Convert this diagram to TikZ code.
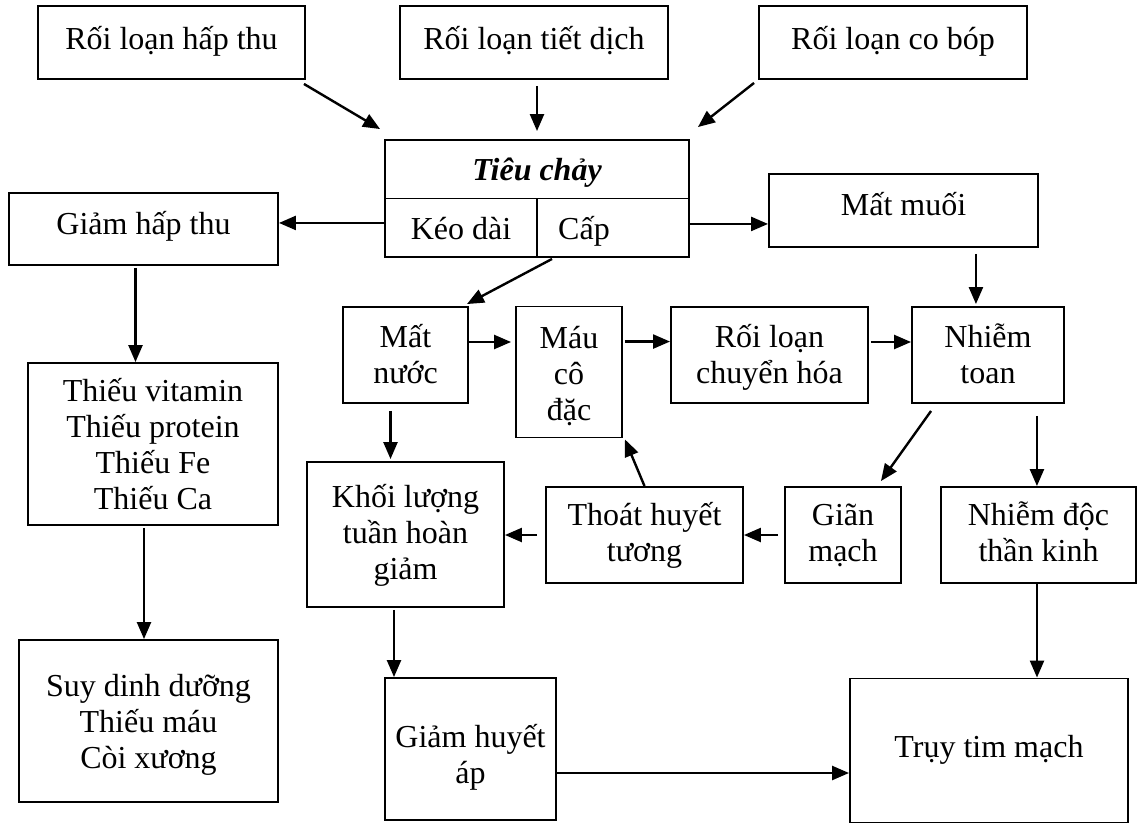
\documentclass[tikz,border=0pt]{standalone}
\usepackage{fontspec}
\setmainfont{Liberation Serif}
\usetikzlibrary{arrows.meta,calc}
\newcommand\rz[2]{\raisebox{#1}[\height][\depth]{\begin{tabular}{@{}c@{}}#2\end{tabular}}}
\begin{document}
\begin{tikzpicture}[x=1pt,y=-1pt,
  box/.style={draw, line width=1.9pt, inner sep=0pt, font=\fontsize{32}{36}\selectfont},
  txt/.style={inner sep=0pt, font=\fontsize{32}{36}\selectfont},
  arr/.style={line width=2.4pt, -{Triangle[length=17pt,width=14pt]}},
]
\useasboundingbox (0,0) rectangle (1138,824);
% top row
\node[box, minimum width=267pt, minimum height=73pt] (rlht) at (171.5,42.5) {\rz{0.5pt}{Rối loạn hấp thu}};
\node[box, minimum width=268pt, minimum height=73pt] (rltd) at (534,42.5) {\rz{0.5pt}{Rối loạn tiết dịch}};
\node[box, minimum width=268pt, minimum height=73pt] (rlcb) at (893,42.5) {\rz{0.5pt}{Rối loạn co bóp}};
% Tieu chay
\node[box, minimum width=304pt, minimum height=117pt] (tc) at (537,198.5) {};
\draw[line width=1.9pt] (tc.west) -- (tc.east);
\draw[line width=1.9pt] (tc.center) -- (tc.south);
\node[txt, font=\fontsize{32}{36}\selectfont\bfseries\itshape, anchor=base] (tct) at (537,180) {Tiêu chảy};
\node[txt, anchor=base] (tck) at (461,239) {Kéo dài};
\node[txt, anchor=base west] (tcc) at (558,239) {Cấp};
% side boxes
\node[box, minimum width=269pt, minimum height=72pt] (ght) at (143.5,229) {\rz{2pt}{Giảm hấp thu}};
\node[box, minimum width=269pt, minimum height=73pt] (mm) at (903.5,210.5) {\rz{2pt}{Mất muối}};
% middle row
\node[box, minimum width=125pt, minimum height=96pt] (mn) at (405.5,355) {\rz{-3pt}{Mất\\nước}};
\node[box, minimum width=106pt, minimum height=131pt] (mcd) at (569,372) {\rz{-5pt}{Máu\\cô\\đặc}};
\node[box, minimum width=197pt, minimum height=96pt] (rlch) at (769.5,355) {\rz{-3pt}{Rối loạn\\chuyển hóa}};
\node[box, minimum width=152pt, minimum height=96pt] (nt) at (988,355) {\rz{-3pt}{Nhiễm\\toan}};
% left column
\node[box, minimum width=250pt, minimum height=162pt] (tv) at (153,444) {\rz{-4pt}{Thiếu vitamin\\Thiếu protein\\Thiếu Fe\\Thiếu Ca}};
\node[box, minimum width=259pt, minimum height=162pt] (sdd) at (148.5,721) {\rz{-4pt}{Suy dinh dưỡng\\Thiếu máu\\Còi xương}};
% lower middle row
\node[box, minimum width=197pt, minimum height=145pt] (kl) at (405.5,534.5) {\rz{-2pt}{Khối lượng\\tuần hoàn\\giảm}};
\node[box, minimum width=197pt, minimum height=96pt] (tht) at (644.5,535) {\rz{-1pt}{Thoát huyết\\tương}};
\node[box, minimum width=116pt, minimum height=96pt] (gm) at (843,535) {\rz{-1pt}{Giãn\\mạch}};
\node[box, minimum width=195pt, minimum height=96pt] (ndtk) at (1038.5,535) {\rz{-1pt}{Nhiễm độc\\thần kinh}};
% bottom
\node[box, minimum width=171pt, minimum height=142pt] (gha) at (470.5,749) {\rz{-9.5pt}{Giảm huyết\\áp}};
\node[box, minimum width=278pt, minimum height=144pt] (ttm) at (989,750.5) {\rz{0.5pt}{Trụy tim mạch}};
% arrows
\draw[arr] ($(rlht.south east)+(-2,4)$) -- ($(tc.north west)+(-4,-10)$);
\draw[arr] ($(rltd.south)+(3,6)$) -- ($(tc.north)+(0,-8)$);
\draw[arr] ($(rlcb.south west)+(-4,3)$) -- ($(tc.north east)+(8,-12)$);
\coordinate (a4) at ($(tc.south west)+(0,-35)$);
\draw[arr] (a4) -- (ght.east |- a4);
\coordinate (a5) at ($(tc.south east)+(0,-34)$);
\draw[arr] (a5) -- (mm.west |- a5);
\draw[arr] ($(tc.south)+(15,1)$) -- ($(mn.north east)+(-2,-2)$);
\coordinate (a7) at ($(mm.south east)+(-63,6)$);
\draw[arr] (a7) -- ($(a7 |- nt.north)+(0,-2)$);
\coordinate (a8) at ($(mn.east)+(0,-13)$);
\draw[arr] (a8) -- ($(mcd.west |- a8)+(-4,0)$);
\coordinate (a9) at ($(mcd.north east)+(2,36)$);
\draw[arr] (a9) -- (rlch.west |- a9);
\coordinate (a10) at ($(rlch.east)+(2,-13)$);
\draw[arr] (a10) -- (nt.west |- a10);
\coordinate (a11) at ($(mn.south)+(-15,7)$);
\draw[arr] (a11) -- ($(a11 |- kl.north)+(0,-2)$);
\draw[arr] ($(nt.south west)+(20,7)$) -- ($(gm.north east)+(-21,-5)$);
\coordinate (a13) at ($(nt.south east)+(-28,12)$);
\draw[arr] (a13) -- (a13 |- ndtk.north);
\draw[arr] ($(gm.west)+(-6,0)$) -- (tht.east);
\coordinate (a15) at ($(tht.west)+(-8,0)$);
\draw[arr] (a15) -- (kl.east |- a15);
\draw[arr] (tht.north) -- ($(mcd.south east)+(2,1)$);
\coordinate (a17) at ($(ght.south)+(-8,2)$);
\draw[arr] (a17) -- (a17 |- tv.north);
\coordinate (a18) at ($(tv.south)+(-9,2)$);
\draw[arr] (a18) -- (a18 |- sdd.north);
\coordinate (a19) at ($(kl.south)+(-11.5,2)$);
\draw[arr] (a19) -- (a19 |- gha.north);
\coordinate (a20) at ($(ndtk.south)+(-1.5,0)$);
\draw[arr] (a20) -- (a20 |- ttm.north);
\coordinate (a21) at ($(gha.east)+(0,24)$);
\draw[arr] (a21) -- (ttm.west |- a21);
\end{tikzpicture}
\end{document}
